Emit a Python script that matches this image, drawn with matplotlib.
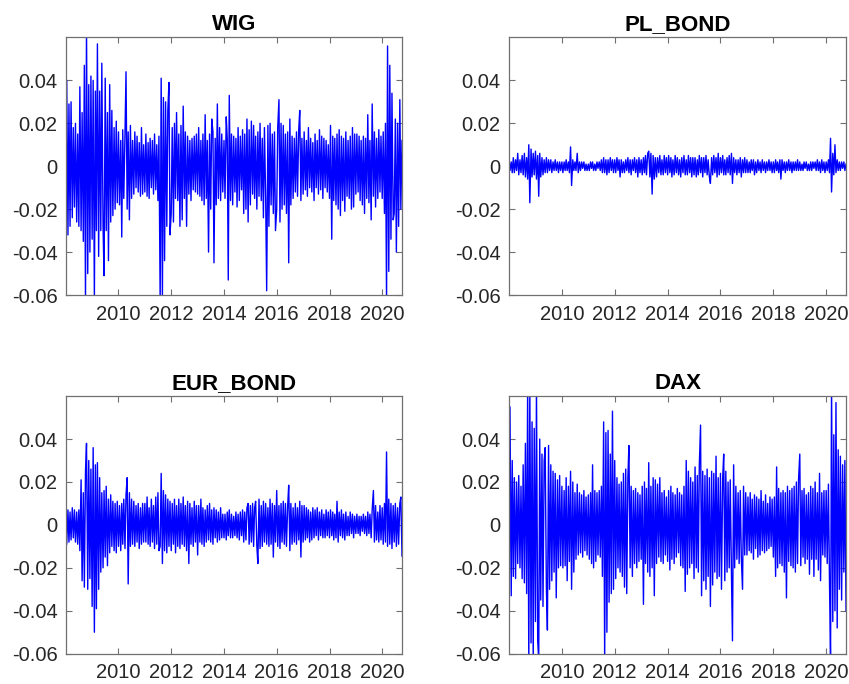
import matplotlib
matplotlib.use("Agg")
import matplotlib.pyplot as plt
import numpy as np
import pandas as pd

plt.rcParams['font.family'] = ['Liberation Sans', 'DejaVu Sans']

# semi-monthly sampling dates (1st and 15th), Jan 2008 .. Oct 2020
dates = pd.date_range('2008-01-01', periods=307, freq='SMS')

# daily log-returns, in percent (one row per year)
wig = [
    -5.7, 4.0, -3.2, 2.9, -2.8, 3.0, -2.4, 1.8, -1.9, 2.0, -2.6, 1.5, -2.8, 3.7, -3.0, 2.5, -3.5, 4.7, -6.2, 6.5, -5.0, 3.8, -4.0, 4.2,
    -3.4, 4.0, -6.2, 3.5, -3.0, 5.7, -4.2, 3.5, -3.0, 4.8, -2.8, -5.1, 4.1, -3.0, 2.5, -4.4, 3.8, -2.6, 2.6, -2.3, 1.8, -2.0, 2.1, -1.7,
    1.6, -1.8, 1.2, -3.3, 1.7, -1.5, 1.5, 4.4, -2.0, 1.6, -2.5, 1.9, -1.5, 1.2, -1.3, 1.6, -1.0, 1.4, -1.2, 1.1, -1.4, 1.8, -1.3, 1.0,
    -1.2, 1.5, -1.4, 1.1, -1.5, 1.3, -1.0, 1.2, -1.3, 1.5, -1.1, 1.0, -1.6, 1.4, -6.3, 4.1, -6.2, 3.2, -4.4, 3.0, -2.8, 2.6, 3.9, -3.2,
    -2.2, 1.8, -2.6, 2.0, -1.5, 2.5, -1.6, 1.5, -2.8, 1.9, -2.5, 2.8, -1.5, 1.6, -2.8, 1.4, -1.3, 1.2, -1.6, 1.3, -1.1, 1.4, -1.2, 1.5,
    -1.3, 1.8, -1.4, 1.2, -1.6, 1.5, -1.8, 2.4, -1.5, 1.2, -4.0, 1.5, -2.0, 2.2, 1.6, -4.5, 1.3, -1.8, 2.9, -1.5, 1.8, -1.6, 1.5, -1.2,
    1.2, -1.5, 2.3, 1.3, -5.3, 3.3, -1.6, 1.5, -1.8, 1.4, -1.2, 1.3, -1.9, 1.8, -1.6, 1.4, -1.1, 1.7, -2.2, 1.5, -2.0, 2.2, -2.6, 1.7,
    -1.8, 2.1, -1.3, 1.9, -1.5, 1.4, -2.0, 1.6, -1.4, 2.0, -1.6, 1.3, -2.4, 1.8, -1.5, -5.8, 1.9, -2.8, 2.0, -1.8, 1.5, -2.2, 1.6, -3.0,
    -2.0, 1.8, 3.1, -2.6, 2.0, -2.0, 1.9, -1.8, 1.5, -2.2, 1.6, -4.5, 2.2, -1.8, 1.4, -1.5, 1.3, -1.2, 1.6, -1.4, 1.7, 2.6, -1.6, 1.3,
    -1.3, 1.6, -1.1, 1.2, -1.4, 1.8, -1.0, 1.3, -1.2, 1.1, -1.6, 1.5, -1.0, 1.2, -1.3, 1.7, -1.1, 1.4, -1.5, 1.3, -1.0, 1.2, -1.2, 1.0,
    -1.5, 1.9, -3.4, 1.4, -1.6, 1.3, -1.8, 1.5, -2.0, 1.7, -2.3, 1.4, -1.6, 1.3, -2.1, 1.6, -1.4, 1.2, -1.5, 1.4, -2.0, 1.8, -1.9, 1.5,
    -1.3, 1.5, -1.2, 1.4, -1.6, 1.2, -1.8, 1.4, -2.2, 1.3, -1.5, 2.4, -1.7, 1.2, -2.5, 2.9, -1.4, 1.6, -1.9, 1.3, -1.5, 1.7, -1.2, 1.4,
    -1.5, 1.6, -2.2, 2.0, -6.3, 5.6, -4.9, 4.7, -3.4, 3.4, -2.5, -2.2, 2.2, -4.0, 2.0, -2.8, 3.1, -2.0, 1.2,
]

pl_bond = [
    0.3, -0.2, 0.2, -0.3, 0.4, -0.3, 0.3, -0.2, 0.6, -0.4, 0.3, -0.3, 0.5, -0.4, 0.6, -0.5, 0.4, -0.6, 1.0, -1.7, 0.8, -0.5, 0.6, -0.4,
    0.7, -0.6, 0.5, -1.4, 0.6, -0.5, 0.4, -0.4, 0.3, -0.3, 0.4, -0.3, 0.3, -0.2, 0.3, -0.3, 0.2, -0.2, 0.3, -0.2, 0.2, -0.3, 0.2, -0.2,
    0.2, -0.3, 0.2, -0.2, 0.3, -0.2, 0.2, -0.3, 0.9, -0.9, 0.3, -0.2, 0.2, -0.2, 0.6, -0.3, 0.2, -0.2, 0.2, -0.1, 0.2, -0.2, 0.1, -0.2,
    0.1, -0.2, 0.2, -0.1, 0.2, -0.2, 0.1, -0.2, 0.2, -0.1, 0.2, -0.2, 0.3, -0.3, 0.4, -0.3, 0.3, -0.4, 0.3, -0.3, 0.4, -0.2, 0.3, -0.3,
    0.3, -0.3, 0.4, -0.2, 0.3, -0.5, 0.3, -0.3, 0.2, -0.3, 0.3, -0.2, 0.4, -0.3, 0.3, -0.4, 0.3, -0.2, 0.4, -0.3, 0.3, -0.5, 0.4, -0.3,
    0.3, -0.4, 0.4, -0.3, 0.5, -0.4, 0.6, 0.7, -0.5, 0.6, -1.3, 0.5, -0.6, 0.4, -0.5, 0.4, -0.3, 0.5, -0.4, 0.3, -0.4, 0.5, -0.3, 0.4,
    -0.4, 0.5, -0.3, 0.4, -0.5, 0.3, -0.4, 0.5, -0.3, 0.4, -0.4, 0.3, -0.5, 0.4, -0.3, 0.5, -0.4, 0.3, -0.4, 0.5, -0.3, 0.4, -0.5, 0.4,
    -0.4, 0.4, -0.5, 0.3, -0.4, 0.5, -0.3, 0.4, -0.5, 0.4, -0.3, 0.5, -0.4, 0.3, -0.5, -0.8, 0.4, -0.4, 0.5, -0.3, 0.4, -0.5, 0.6, -0.4,
    0.4, -0.3, 0.5, -0.4, 0.3, -0.4, 0.4, -0.3, 0.5, -0.4, 0.6, -0.8, 0.4, -0.3, 0.3, -0.4, 0.3, -0.3, 0.4, -0.5, 0.3, -0.3, 0.4, -0.3,
    0.3, -0.3, 0.2, -0.3, 0.3, -0.2, 0.3, -0.4, 0.2, -0.3, 0.3, -0.2, 0.2, -0.3, 0.3, -0.2, 0.2, -0.3, 0.2, -0.2, 0.3, -0.2, 0.2, -0.3,
    0.2, -0.3, 0.3, -0.2, 0.2, -0.3, 0.3, -0.6, 0.3, -0.2, 0.2, -0.3, 0.2, -0.2, 0.3, -0.2, 0.2, -0.3, 0.2, -0.2, 0.2, -0.2, 0.3, -0.2,
    0.2, -0.2, 0.1, -0.2, 0.2, -0.1, 0.2, -0.2, 0.1, -0.2, 0.2, -0.2, 0.2, -0.1, 0.2, -0.2, 0.3, -0.2, 0.2, -0.3, 0.3, -0.2, 0.2, -0.3,
    0.2, -0.2, 0.3, -0.3, 1.3, -1.2, 0.6, -0.4, 1.0, -0.3, 0.3, -0.2, 0.2, -0.2, 0.2, -0.1, 0.2, -0.2, 0.1,
]

eur_bond = [
    0.8, -0.9, 0.7, -0.8, 0.6, -0.7, 0.8, -0.6, 0.7, -0.8, 0.6, -0.9, 0.7, -1.2, 2.1, -2.6, 1.5, -2.9, 2.5, 3.8, -3.0, 3.0, -2.5, 2.6,
    -3.8, 3.6, -5.0, 2.8, -3.9, 2.9, -3.0, 2.2, -2.2, 1.5, -2.0, 1.6, -1.5, 1.8, -1.9, 1.2, -1.3, 1.4, -1.0, 1.1, -1.2, 1.0, -1.3, 1.1,
    -1.0, 0.9, -1.2, 1.0, -0.9, 1.2, -1.1, 1.4, 2.2, -2.75, 1.5, -1.0, 1.2, -0.9, 1.1, -1.0, 0.9, -0.8, 1.0, -1.1, 0.8, -0.9, 1.0, -0.8,
    1.0, -0.8, 1.3, -0.9, 0.8, -1.0, 1.2, -0.8, 0.9, -1.1, 1.3, -0.9, 1.5, -1.2, -1.0, 2.4, -1.8, 1.6, -1.2, 1.4, -1.3, 1.2, -1.0, 1.1,
    -1.2, 1.0, -0.9, 1.2, -1.3, 0.9, -1.0, 1.2, -1.1, 1.0, -0.9, 1.3, -1.0, 0.9, -1.2, 1.1, -1.8, 1.0, -0.9, 0.8, -1.0, 1.1, -0.8, 0.9,
    -1.4, 0.9, -0.8, 1.2, -0.9, 0.8, -1.0, 0.7, -0.8, 0.9, -0.7, 1.0, -0.8, 0.7, -0.9, 0.8, -0.6, 0.7, -0.8, 0.6, -0.7, 0.8, -0.6, 0.5,
    -0.6, 0.5, -0.7, 0.6, -0.5, 0.7, -0.6, 0.5, -0.6, 0.4, -0.5, 0.6, -0.6, 0.5, -0.7, 0.6, -0.5, 0.7, -0.8, 0.6, -0.7, 0.8, 1.0, -0.9,
    0.9, -0.8, 1.0, -1.0, 0.8, 1.1, -1.0, -1.8, 1.2, -1.1, 0.9, -1.0, 1.1, -0.8, 1.0, -0.9, 0.8, -1.0, 1.2, -0.9, 1.0, -1.5, 0.9, -0.8,
    1.6, -1.0, 0.9, -1.1, 1.0, -0.8, 1.1, -0.9, 1.0, -1.0, 0.9, 1.85, -1.2, 1.0, -0.9, 0.8, -0.8, 1.0, -0.9, 0.8, -0.7, 1.1, -1.5, 0.9,
    -0.8, 0.9, -0.7, 0.8, -0.6, 0.7, -0.8, 0.6, -0.7, 0.8, -0.6, 0.7, -0.5, 0.8, -0.7, 0.6, -0.5, 0.7, -0.6, 0.5, -0.6, 0.7, -0.5, 0.6,
    -0.6, 0.7, -0.5, 0.6, -0.7, 0.5, -0.6, 1.1, -0.8, 0.6, -0.5, 0.7, -0.6, 0.5, -0.7, 0.6, -0.5, 0.4, -0.5, 0.6, -0.4, 0.5, -0.6, 0.4,
    -0.4, 0.5, -0.4, 0.4, -0.5, 0.4, -0.3, 0.5, -0.4, 0.4, -0.5, 0.6, -0.4, 0.5, -0.6, 0.7, 1.6, -0.8, 0.9, -0.7, 0.6, -0.8, 0.9, -0.7,
    0.8, -0.9, 1.0, -0.8, 3.4, -1.0, 1.2, -0.9, 1.0, -1.1, 0.9, -0.8, 1.0, -1.0, 0.8, -0.9, 1.0, 1.3, -1.45,
]

dax = [
    -6.3, 5.5, -3.3, 3.0, -2.4, 2.2, -2.5, 2.0, -1.8, 2.3, -2.0, 1.8, -2.5, 2.8, -2.7, 3.8, -3.2, 6.5, -6.5, 6.5, -5.5, 4.8, -6.3, 4.5,
    -4.5, 6.5, -5.4, -6.3, 4.0, -3.5, 3.3, -3.8, 3.0, 3.6, -3.0, -4.9, 3.7, -3.0, 2.8, -2.6, 2.5, -2.2, 2.4, -3.4, 2.1, -2.0, 2.3, -1.9,
    1.8, -2.0, 1.6, -1.9, 2.2, -2.6, 1.8, -1.7, 2.5, -3.0, 2.0, -2.2, 1.5, -1.6, 1.9, -1.4, 1.5, -1.3, 1.4, -1.5, 1.6, -1.2, 1.3, -1.4,
    1.4, -1.6, 1.5, -1.8, 2.8, -2.0, 1.6, -1.7, 1.5, -1.4, 1.6, -1.5, 1.8, -2.4, 4.8, -6.3, 4.3, -5.0, 4.4, -3.6, 3.3, -3.2, 5.3, -3.0,
    3.0, -2.5, 2.2, -2.0, 1.9, -2.2, 2.0, -2.4, 2.4, -2.9, 2.6, -3.2, 2.2, 3.7, -2.0, 1.8, -2.4, 1.6, -1.8, 1.7, -2.0, 1.5, -1.7, 1.4,
    -1.6, 1.8, -3.7, 2.0, -1.8, 1.7, -2.2, 2.9, -2.4, 1.8, -2.0, 2.2, -3.3, 2.1, -1.8, 1.9, -1.5, 2.2, -1.7, 1.5, -1.8, 1.6, -1.4, 1.3,
    -1.7, 1.6, -2.1, 1.8, -1.6, 1.5, -1.8, 1.4, -1.5, 1.7, -1.3, 1.5, -1.9, 1.4, -2.0, 1.8, -3.1, 3.0, -2.3, 2.5, -2.0, 2.2, -1.8, 2.0,
    -2.5, 2.7, -2.0, 2.3, -2.2, 2.8, 4.65, -3.3, 2.5, -2.6, 2.3, -3.0, 2.6, -2.4, 2.2, -3.8, 2.5, -2.8, 2.4, -2.2, 3.2, -2.5, 2.2, -2.4,
    2.4, -3.0, 2.2, 3.3, -2.6, 2.5, -2.2, 2.0, -2.0, 2.1, -2.3, -5.4, 2.8, -2.0, 1.8, -1.6, 1.5, -1.8, 1.6, -1.5, -3.0, 1.8, -1.4, 1.5,
    -1.4, 1.3, -1.2, 1.5, -1.3, 1.2, -1.6, 1.4, -1.1, 1.3, -1.5, 1.2, -1.4, 1.6, -1.2, 1.1, -1.3, 1.4, -1.2, 1.0, -1.1, 1.3, -1.0, 1.2,
    -1.5, 1.3, -2.4, 2.7, -2.0, 1.7, -1.8, 1.5, -1.9, 1.6, -2.2, 1.5, -3.4, 1.8, -1.7, 1.6, -1.9, 1.7, -2.0, 1.8, -2.2, 2.0, -1.8, 2.1,
    3.3, -1.9, 1.6, -1.5, 1.7, -1.8, 1.4, -1.6, 1.5, -2.3, 1.8, -1.6, 1.7, -2.4, 2.0, -1.6, 1.5, -2.1, 2.4, -2.6, 1.5, -1.4, 1.6, -1.5,
    1.6, -1.8, 1.9, -2.5, -6.3, 6.5, -4.5, 4.2, -4.0, 5.7, -4.8, 3.5, -3.0, 3.2, -3.5, 2.8, -2.2, 3.0, -4.0,
]

titles = ['WIG', 'PL_BOND', 'EUR_BOND', 'DAX']
series = [wig, pl_bond, eur_bond, dax]
ytick_vals = [-0.06, -0.04, -0.02, 0, 0.02, 0.04]
ytick_labels = ['-0.06', '-0.04', '-0.02', '0', '0.02', '0.04']
xtick_years = [2010, 2012, 2014, 2016, 2018, 2020]

fig = plt.figure(figsize=(8.49, 6.84), dpi=100)
positions = [
    [0.0774, 0.5687, 0.3961, 0.3772],
    [0.5995, 0.5687, 0.3970, 0.3772],
    [0.0774, 0.0443, 0.3961, 0.3772],
    [0.5995, 0.0443, 0.3970, 0.3772],
]

for pos, title, vals in zip(positions, titles, series):
    ax = fig.add_axes(pos)
    ax.plot(dates, np.array(vals) / 100.0, color='#0000ff', lw=1.0)
    ax.set_xlim(dates[0], dates[-1])
    ax.set_ylim(-0.06, 0.0602)
    ax.set_yticks(ytick_vals)
    ax.set_yticklabels(ytick_labels)
    ax.set_xticks([pd.Timestamp(f'{y}-01-01') for y in xtick_years])
    ax.set_xticklabels([str(y) for y in xtick_years])
    ax.tick_params(direction='in', top=True, right=True, length=4, width=0.8,
                   color='#707070', labelcolor='#262626', labelsize=14.5)
    ax.tick_params(axis='x', pad=7)
    ax.tick_params(axis='y', pad=6)
    for sp in ax.spines.values():
        sp.set_color('#707070')
        sp.set_linewidth(0.9)
    ax.set_title(title, fontsize=16, fontweight='bold', pad=5, color='black')

fig.savefig('out.png', dpi=100)
